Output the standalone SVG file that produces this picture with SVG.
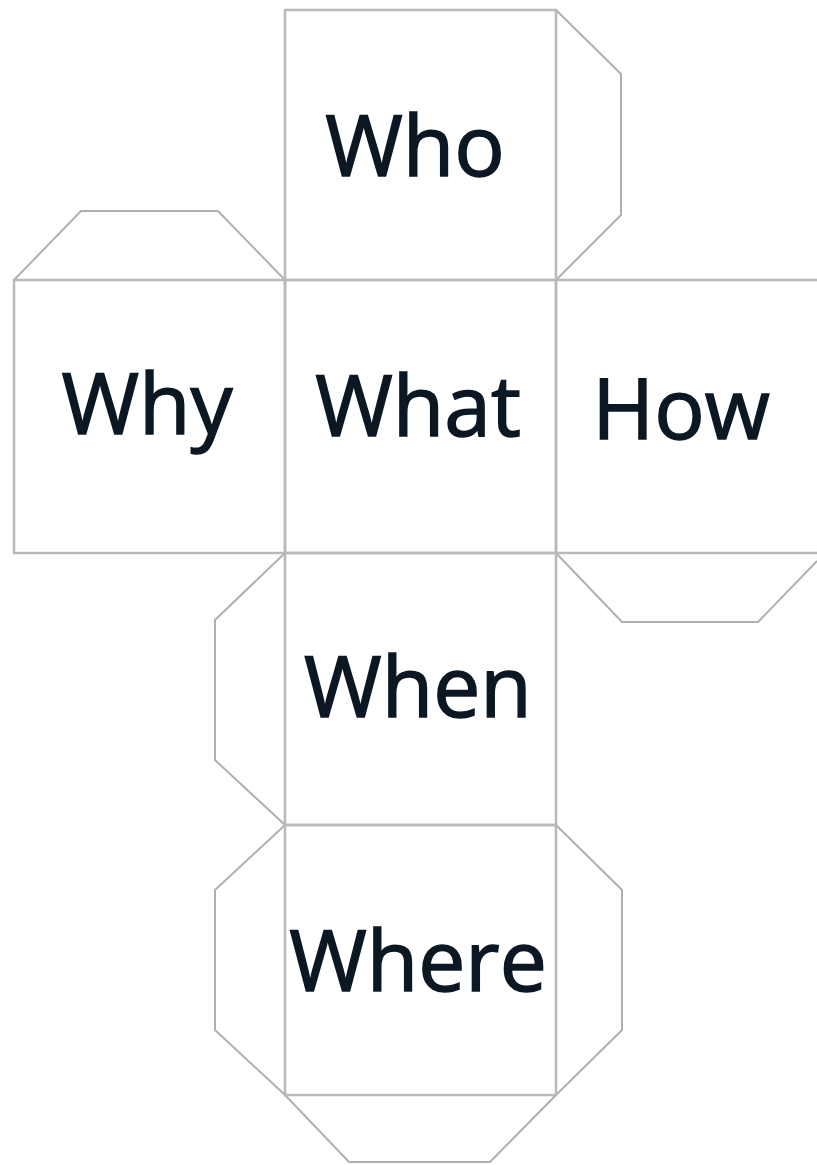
<svg xmlns="http://www.w3.org/2000/svg" width="817" height="1165" viewBox="0 0 817 1165">
<style>
.edge{fill:none;stroke:#b9b9b9;stroke-width:2.5;stroke-linejoin:miter}
.flap{fill:none;stroke:#b0b0b0;stroke-width:2}
.lbl{font-family:"Open Sans","Noto Sans",sans-serif;font-size:84px;fill:#0b1722;stroke:#0b1722;stroke-width:1.5;text-anchor:middle}
</style>
<rect width="817" height="1165" fill="#ffffff"/>
<g id="flaps">
<polyline class="flap" points="556,10 621,74 621,215 556,280"/>
<polyline class="flap" points="14,280 81,211 218,211 285,280"/>
<polyline class="flap" points="556,553 622,622 758,622 817,561"/>
<polyline class="flap" points="285,553 215,620 215,760 285,825"/>
<polyline class="flap" points="285,825 215,890 215,1030 285,1095"/>
<polyline class="flap" points="556,825 622,890 622,1030 556,1095"/>
<polyline class="flap" points="285,1095 349,1162 490,1162 556,1095"/>
</g>
<g id="who"><rect class="edge" x="285" y="10" width="271" height="270"/><text class="lbl" x="415" y="176">Who</text></g>
<g id="why"><rect class="edge" x="14" y="280" width="271" height="273"/><text class="lbl" x="147" y="434">Why</text></g>
<g id="what"><rect class="edge" x="285" y="280" width="271" height="273"/><text class="lbl" x="418" y="436">What</text></g>
<g id="how"><polyline class="edge" points="817,280 556,280 556,553 817,553"/><text class="lbl" x="681" y="439">How</text></g>
<g id="when"><rect class="edge" x="285" y="553" width="271" height="272"/><text class="lbl" x="418" y="717">When</text></g>
<g id="where"><rect class="edge" x="285" y="825" width="271" height="270"/><text class="lbl" x="418" y="991">Where</text></g>
</svg>
